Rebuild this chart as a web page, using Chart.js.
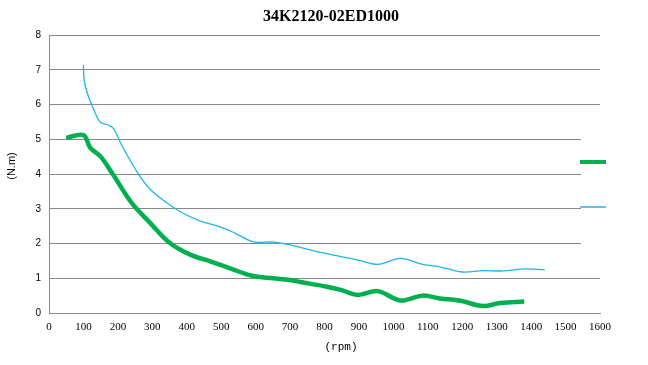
<!DOCTYPE html>
<html>
<head>
<meta charset="utf-8">
<script src="https://cdn.jsdelivr.net/npm/chart.js@4.4.1/dist/chart.umd.min.js"></script>
<style>
  html, body { margin: 0; padding: 0; background: #fff; }
  #wrap { width: 648px; height: 365px; }
</style>
</head>
<body>
<div id="wrap"><canvas id="torqueChart" width="648" height="365"></canvas></div>
<script>
// Dados (rpm x torque N.m)
const chartTitle = '34K2120-02ED1000';
const xTitle = '(rpm)';
const yTitle = '(N.m)';

const greenRpm = [50, 100, 120, 150, 185, 240, 293, 350, 410, 470, 530, 590, 650, 700, 730, 800, 850, 895, 955, 1020, 1085, 1135, 1195, 1260, 1310, 1380];
const greenTorque = [5.04, 5.12, 4.75, 4.5, 4.0, 3.17, 2.6, 2.02, 1.68, 1.48, 1.27, 1.07, 1.0, 0.95, 0.89, 0.77, 0.66, 0.52, 0.63, 0.36, 0.5, 0.42, 0.35, 0.2, 0.29, 0.33];

const blueRpm = [100, 102, 112, 130, 150, 172, 188, 210, 255, 293, 342, 380, 438, 497, 540, 593, 651, 700, 730, 800, 895, 955, 1020, 1085, 1135, 1200, 1260, 1320, 1380, 1440];
const blueTorque = [7.14, 6.7, 6.3, 5.85, 5.48, 5.41, 5.3, 4.85, 4.07, 3.57, 3.17, 2.92, 2.65, 2.48, 2.3, 2.05, 2.04, 1.96, 1.89, 1.72, 1.53, 1.4, 1.57, 1.4, 1.33, 1.18, 1.22, 1.21, 1.27, 1.24];

const xTicks = [0, 100, 200, 300, 400, 500, 600, 700, 800, 900, 1000, 1100, 1200, 1300, 1400, 1500, 1600];
const yTicks = [0, 1, 2, 3, 4, 5, 6, 7, 8];

const gridColor = '#8a8a8a';

function toPoints(xs, ys) {
    return xs.map((x, i) => ({ x: x, y: ys[i] }));
}

/**
 * Título, rótulos dos eixos e legenda sem texto à direita
 */
const decorPlugin = {
    id: 'decor',
    afterDraw(chart) {
        const ctx = chart.ctx;
        const area = chart.chartArea;
        ctx.save();

        // Título
        ctx.fillStyle = '#000';
        ctx.textAlign = 'center';
        ctx.textBaseline = 'middle';
        ctx.font = 'bold 16px "Liberation Serif"';
        ctx.fillText(chartTitle, 331, 17);

        // Título do eixo X
        ctx.font = '11px "Liberation Mono"';
        ctx.fillText(xTitle, 341, 347);

        // Título do eixo Y (rotacionado)
        ctx.save();
        ctx.translate(12, 166);
        ctx.rotate(-Math.PI / 2);
        ctx.font = '11px "Liberation Sans"';
        ctx.fillText(yTitle, 0, 0);
        ctx.restore();

        // Caixa da legenda (fundo branco sobre a grade)
        const lx = area.right - 19;
        ctx.fillStyle = '#fff';
        ctx.fillRect(lx, 134, 32, 114);
        chart.data.datasets.forEach((ds, i) => {
            const y = 162 + i * 45;
            ctx.strokeStyle = ds.borderColor;
            ctx.lineWidth = i === 0 ? 4 : 1.5;
            ctx.beginPath();
            ctx.moveTo(lx - 1, y);
            ctx.lineTo(lx + 25, y);
            ctx.stroke();
        });
        ctx.restore();
    }
};

const ctx = document.getElementById('torqueChart').getContext('2d');
new Chart(ctx, {
    type: 'line',
    data: {
        datasets: [
            {
                label: 'Torque',
                data: toPoints(greenRpm, greenTorque),
                borderColor: '#00b04f',
                borderWidth: 4.5,
                pointRadius: 0,
                tension: 0.35,
                fill: false
            },
            {
                label: 'Max',
                data: toPoints(blueRpm, blueTorque),
                borderColor: '#22b2ee',
                borderWidth: 1.3,
                pointRadius: 0,
                tension: 0.35,
                fill: false
            }
        ]
    },
    options: {
        responsive: false,
        animation: false,
        layout: { padding: { top: 35, right: 48, left: 0, bottom: 0 } },
        plugins: {
            legend: { display: false },
            title: { display: false },
            tooltip: { enabled: false }
        },
        scales: {
            x: {
                type: 'linear',
                min: 0,
                max: 1600,
                afterBuildTicks: (axis) => { axis.ticks = xTicks.map(v => ({ value: v })); },
                afterFit: (axis) => { axis.height = 52; },
                ticks: {
                    padding: 8,
                    maxRotation: 0,
                    autoSkip: false,
                    color: '#000',
                    font: { family: 'Liberation Serif', size: 11 },
                    callback: (value) => String(value)
                },
                grid: { display: false, drawTicks: false },
                border: { display: true, color: gridColor, width: 1 }
            },
            y: {
                min: 0,
                max: 8,
                afterBuildTicks: (axis) => { axis.ticks = yTicks.map(v => ({ value: v })); },
                afterFit: (axis) => { axis.width = 49; },
                ticks: {
                    padding: 8,
                    color: '#000',
                    font: { family: 'Liberation Sans', size: 10 }
                },
                grid: { color: gridColor, lineWidth: 1, drawTicks: false },
                border: { display: true, color: gridColor, width: 1 }
            }
        }
    },
    plugins: [decorPlugin]
});
</script>
</body>
</html>
